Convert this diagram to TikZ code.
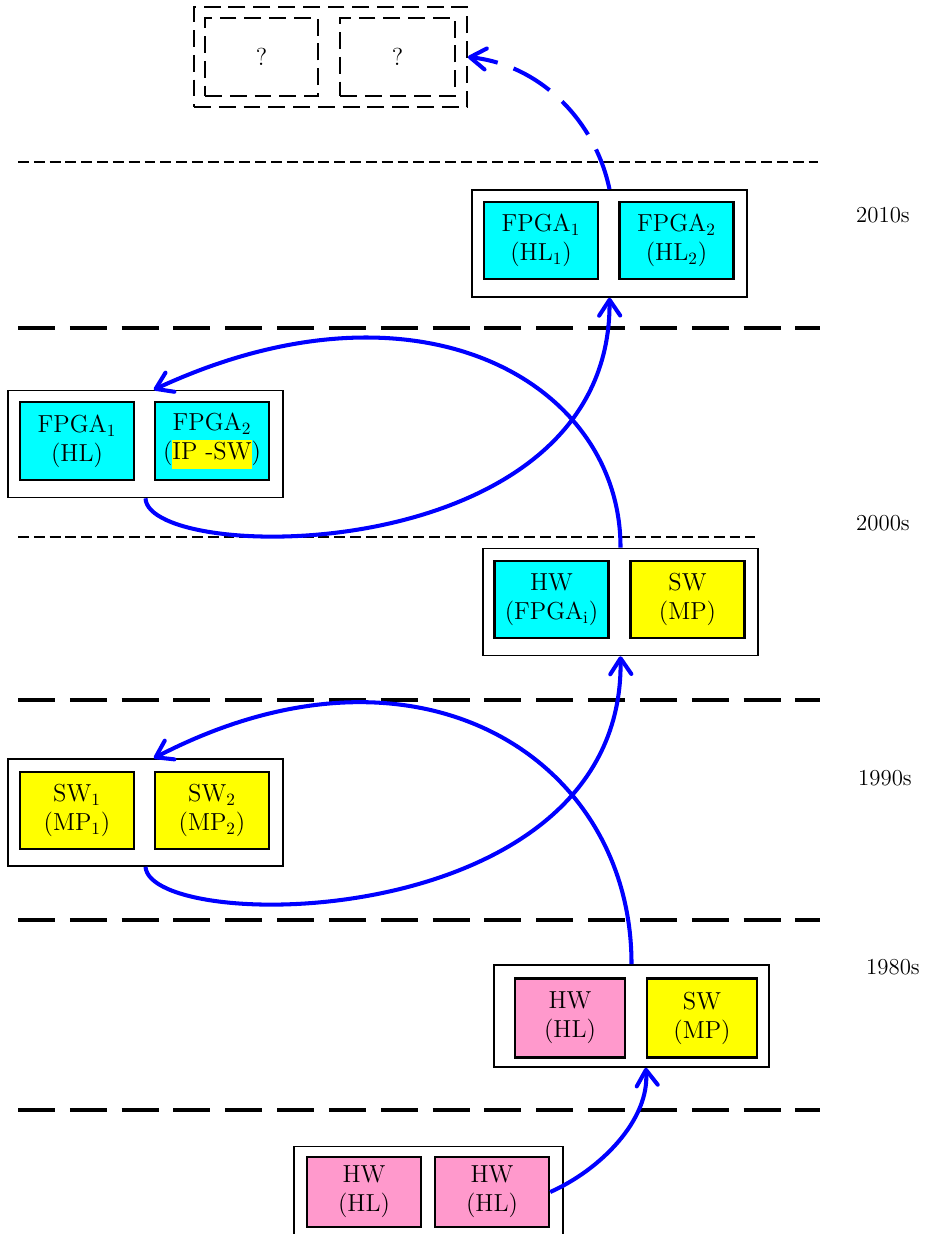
\documentclass[tikz,border=0pt]{standalone}
\usetikzlibrary{arrows.meta}
\definecolor{hwpink}{RGB}{255,153,204}
\definecolor{fpgacyan}{RGB}{0,255,255}
\definecolor{swyellow}{RGB}{255,255,0}
\begin{document}
\begin{tikzpicture}[x=0.02cm,y=-0.02cm,
    outbox/.style={draw,line width=0.9pt,fill=white,minimum width=5.5cm,minimum height=2.14cm},
    inbox/.style={draw,line width=1.4pt,minimum width=2.28cm,minimum height=1.55cm,inner sep=0pt,
      align=center,font=\fontsize{14}{16.5}\selectfont},
    qbox/.style={draw,line width=1.1pt,dash pattern=on 9.6pt off 4.5pt},
    septhin/.style={line width=0.7pt,dash pattern=on 6.2pt off 2.8pt},
    septhick/.style={line width=2.3pt,dash pattern=on 21pt off 8.5pt},
    year/.style={font=\fontsize{13}{16}\selectfont},
    bluearrow/.style={blue,line width=2.3pt,-{Straight Barb[length=9pt,width=12pt,round]}}]
  \useasboundingbox (0,0) rectangle (930,1234);
  % decade separators
  \draw[septhin] (18,162) -- (818,162);
  \draw[septhick] (18,328) -- (820,328);
  \draw[septhin] (18,537) -- (755,537);
  \draw[septhick] (18,700) -- (820,700);
  \draw[septhick] (18,920) -- (820,920);
  \draw[septhick] (18,1110) -- (820,1110);
  % decades
  \node[year] (y10) at (883,215) {2010s};
  \node[year] (y00) at (883,523) {2000s};
  \node[year] (y90) at (885,778) {1990s};
  \node[year] (y80) at (893,967) {1980s};
  % next
  \node[qbox,minimum width=5.46cm,minimum height=2cm] (gnext) at (330.5,57) {};
  \node[qbox,inbox,line width=1.1pt,minimum width=2.26cm,minimum height=1.56cm] (gnexta) at (261.5,57) {?};
  \node[qbox,inbox,line width=1.1pt,minimum width=2.3cm,minimum height=1.56cm] (gnextb) at (397.5,57) {?};
  % 2010s
  \node[outbox] (g10) at (609.5,243.5) {};
  \node[inbox,fill=fpgacyan] (g10a) at (541,240.5) {FPGA\textsubscript{1}\\(HL\textsubscript{1})};
  \node[inbox,fill=fpgacyan] (g10b) at (676.5,240.5) {FPGA\textsubscript{2}\\(HL\textsubscript{2})};
  % 2000s
  \node[outbox] (g00l) at (145.5,444) {};
  \node[inbox,fill=fpgacyan] (g00la) at (77,441) {FPGA\textsubscript{1}\\(HL)};
  \node[inbox,fill=fpgacyan] (g00lb) at (212,441)
    {FPGA\textsubscript{2}\\({\fboxsep=0pt\colorbox{swyellow}{\strut IP -SW}})};
  \node[outbox] (g00r) at (620.5,602) {};
  \node[inbox,fill=fpgacyan] (g00ra) at (551.5,599.5) {HW\\(FPGA\textsubscript{i})};
  \node[inbox,fill=swyellow] (g00rb) at (687.5,599.5) {SW\\(MP)};
  % 1990s
  \node[outbox] (g90) at (145.5,812.5) {};
  \node[inbox,fill=swyellow] (g90a) at (77,810.5) {SW\textsubscript{1}\\(MP\textsubscript{1})};
  \node[inbox,fill=swyellow] (g90b) at (212,810.5) {SW\textsubscript{2}\\(MP\textsubscript{2})};
  % 1980s
  \node[outbox,minimum height=2.04cm] (g80) at (631.5,1016) {};
  \node[inbox,fill=hwpink,minimum width=2.2cm,minimum height=1.58cm] (g80a) at (570,1018) {HW\\(HL)};
  \node[inbox,fill=swyellow,minimum width=2.2cm,minimum height=1.58cm] (g80b) at (702,1018) {SW\\(MP)};
  % 1970s
  \node[outbox,minimum width=5.38cm] (g70) at (428.5,1200) {};
  \node[inbox,fill=hwpink,minimum height=1.4cm] (g70a) at (364,1192) {HW\\(HL)};
  \node[inbox,fill=hwpink,minimum height=1.4cm] (g70b) at (492,1192) {HW\\(HL)};
  % evolution
  \draw[bluearrow] (g70b.east) .. controls (600,1170) and (650,1120) .. (g80b.south west |- g80.south);
  \draw[bluearrow] (g80.north) .. controls (632,760) and (420,620) .. (g90b.north west |- g90.north);
  \draw[bluearrow] (g90.south) .. controls (150,935) and (625,935) .. (g00r.south);
  \draw[bluearrow] (g00r.north) .. controls (621,383) and (420,266) .. (g00lb.north west |- g00l.north);
  \draw[bluearrow] (g00l.south) .. controls (148,565) and (612,570) .. (g10.south);
  \draw[bluearrow,dash pattern=on 24pt off 9.6pt] (g10.north) .. controls (595,120) and (540,65) .. (gnext.east);
\end{tikzpicture}
\end{document}
